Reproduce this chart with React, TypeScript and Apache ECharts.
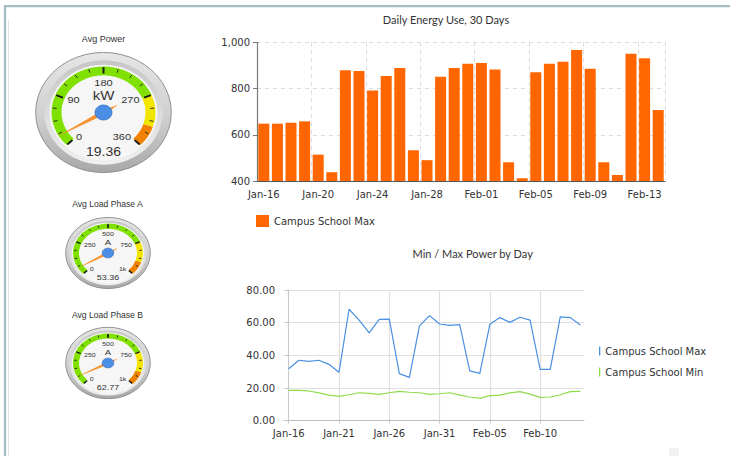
import React, { useEffect, useRef } from "react";
import * as echarts from "echarts";

// ---------- data ----------
const days = [
  "Jan-16", "Jan-17", "Jan-18", "Jan-19", "Jan-20", "Jan-21", "Jan-22", "Jan-23",
  "Jan-24", "Jan-25", "Jan-26", "Jan-27", "Jan-28", "Jan-29", "Jan-30", "Jan-31",
  "Feb-01", "Feb-02", "Feb-03", "Feb-04", "Feb-05", "Feb-06", "Feb-07", "Feb-08",
  "Feb-09", "Feb-10", "Feb-11", "Feb-12", "Feb-13", "Feb-14",
];
const dailyEnergyMax = [
  648, 648, 652, 658, 514, 438, 879, 876, 791, 854, 889, 533, 490, 851, 889,
  907, 910, 882, 481, 412, 870, 907, 916, 967, 886, 481, 426, 951, 931, 707,
];
const powerMax = [
  31.8, 37.0, 36.3, 37.0, 34.5, 29.6, 68.2, 61.6, 53.7, 62.0, 62.2, 28.8, 26.5, 58.0, 64.3,
  59.2, 58.4, 58.8, 30.5, 29.0, 59.0, 63.1, 60.2, 63.3, 61.6, 31.4, 31.4, 63.5, 63.1, 58.6,
];
const powerMin = [
  18.6, 18.6, 18.2, 17.0, 15.7, 14.9, 15.9, 17.1, 16.7, 16.1, 17.1, 18.0, 17.4, 17.1, 16.1,
  16.5, 17.1, 15.7, 14.5, 13.7, 15.3, 15.7, 17.0, 17.8, 16.3, 14.3, 14.5, 15.9, 17.8, 18.0,
];
const energyAxis = { min: 400, max: 1000, interval: 200 };
const powerAxis = { min: 0, max: 80, interval: 20 };
const powerLabelIdx = [0, 5, 10, 15, 20, 25];
const seriesNames = ["Campus School Max", "Campus School Min"];
const chartTitles = ["Daily Energy Use, 30 Days", "Min / Max Power by Day"];

const gaugeTitles = ["Avg Power", "Avg Load Phase A", "Avg Load Phase B"];
const gaugeUnits = ["kW", "A", "A"];
const gaugeValues = [19.36, 53.36, 62.77];
const gaugeMax = [360, 1000, 1000];
const bandStops = [0.75, 0.9, 1];

// ---------- layout ----------
type GSpec = {
  cx: number; cy: number; R: number; k: number; faceR: number; band: number; bandW: number;
  majorLen: number; majorW: number; minorLen: number; needle: number; needleW: number;
  tail: number; hub: number; labelSize: number; labelDist: number; unitSize: number;
  unitOff: number; valueSize: number; valueOff: number; titleY: number; titleSize: number;
};
const bigG = {
  R: 68.5, faceR: 54, band: 52, bandW: 10, majorLen: 7, majorW: 2, minorLen: 4,
  needle: 54, needleW: 2.6, tail: 17, hub: 17, labelSize: 11, labelDist: 15,
  unitSize: 15, unitOff: -19.5, valueSize: 14, valueOff: 44, titleSize: 9,
};
const smallG = {
  R: 43, faceR: 36, band: 35, bandW: 6, majorLen: 4.5, majorW: 1.5, minorLen: 2.5,
  needle: 36, needleW: 1.8, tail: 11.5, hub: 11.5, labelSize: 7, labelDist: 9.6,
  unitSize: 9.5, unitOff: -12.3, valueSize: 9, valueOff: 28.5, titleSize: 8.6,
};
const gaugeLayout: GSpec[] = [
  { ...bigG, cx: 103.5, cy: 112.3, k: 0.886, titleY: 39 },
  { ...smallG, cx: 107.5, cy: 252.8, k: 0.84, titleY: 204 },
  { ...smallG, cx: 107.5, cy: 363.3, k: 0.845, titleY: 315 },
];

const AXIS_FONT = "DejaVu Sans";
const TITLE_FONT = "Lato";
const GAUGE_FONT = "Liberation Sans";

function gaugeOption(i: number, s: GSpec) {
  const R = s.R;
  const max = gaugeMax[i];
  const fmt = (v: number) => (v >= 1000 ? v / 1000 + "k" : String(Math.round(v)));
  const needleColor = "#f6922f";
  const common = {
    type: "gauge",
    center: [R, R],
    radius: s.band,
    min: 0,
    max,
    splitNumber: 4,
  };
  return {
    animation: false,
    graphic: [
      {
        type: "circle", z: -10,
        shape: { cx: R, cy: R, r: R - 0.7 },
        style: {
          fill: new echarts.graphic.LinearGradient(0, 0, 0, 1, [
            { offset: 0, color: "#e6e6e6" },
            { offset: 0.55, color: "#cfcfcf" },
            { offset: 1, color: "#a8a8a8" },
          ]),
          stroke: "#8a8a8a", lineWidth: 1,
        },
      },
      {
        type: "circle", z: -9,
        shape: { cx: R, cy: R, r: s.faceR + (R - s.faceR) * 0.35 },
        style: {
          fill: new echarts.graphic.LinearGradient(0, 0, 0, 1, [
            { offset: 0, color: "#c6c6c6" },
            { offset: 1, color: "#f0f0f0" },
          ]),
        },
      },
      {
        type: "circle", z: -8,
        shape: { cx: R, cy: R, r: s.faceR },
        style: { fill: "#f6f6f6" },
      },
    ],
    series: [
      {
        ...common,
        startAngle: 45,
        endAngle: -225,
        z: 2,
        axisLine: { show: false },
        splitLine: { show: false },
        axisTick: { show: false },
        axisLabel: { show: false },
        pointer: { show: true, length: s.tail, width: s.needleW, itemStyle: { color: needleColor } },
        anchor: { show: false },
        title: { show: false },
        detail: { show: false },
        data: [{ value: gaugeValues[i] }],
      },
      {
        ...common,
        startAngle: 225,
        endAngle: -45,
        z: 3,
        axisLine: {
          lineStyle: {
            width: s.bandW,
            color: [
              [bandStops[0], "#80e000"],
              [bandStops[1], "#f2e600"],
              [bandStops[2], "#f08200"],
            ],
          },
        },
        splitLine: {
          distance: -(s.bandW - 1),
          length: s.majorLen,
          lineStyle: { color: "#151515", width: s.majorW },
        },
        axisTick: {
          splitNumber: 4,
          distance: -(s.bandW - 1),
          length: s.minorLen,
          lineStyle: { color: "#222", width: 1 },
        },
        axisLabel: {
          distance: s.labelDist,
          fontSize: s.labelSize,
          color: "#333",
          fontFamily: GAUGE_FONT,
          formatter: fmt,
        },
        pointer: { show: true, length: s.needle, width: s.needleW, itemStyle: { color: needleColor } },
        anchor: {
          show: true,
          showAbove: true,
          size: s.hub,
          itemStyle: { color: "#4a8ee6", borderColor: "#3a6fc2", borderWidth: 0.8 },
        },
        title: {
          show: true,
          offsetCenter: [0, s.unitOff],
          fontSize: s.unitSize,
          color: "#333",
          fontFamily: GAUGE_FONT,
        },
        detail: {
          show: true,
          offsetCenter: [0, s.valueOff],
          fontSize: s.valueSize,
          color: "#333",
          fontFamily: GAUGE_FONT,
          fontWeight: "normal",
          valueAnimation: false,
          formatter: (v: number) => v.toFixed(2),
        },
        data: [{ value: gaugeValues[i], name: gaugeUnits[i] }],
      },
    ],
  };
}

function mainOption() {
  const gaugeTitleTexts = gaugeLayout.map((g, i) => ({
    type: "text",
    x: g.cx,
    y: g.titleY,
    style: {
      text: gaugeTitles[i],
      fontSize: g.titleSize,
      fontFamily: GAUGE_FONT,
      fill: "#333",
      align: "center",
      verticalAlign: "middle",
    },
  }));
  return {
    animation: false,
    backgroundColor: "#fff",
    textStyle: { fontFamily: AXIS_FONT },
    graphic: [
      {
        type: "rect",
        shape: { x: 5, y: 6.2, width: 760, height: 480 },
        style: { fill: "none", stroke: "#a9bdc5", lineWidth: 2.3 },
      },
      {
        type: "line",
        shape: { x1: 8.5, y1: 20, x2: 8.5, y2: 456 },
        style: { stroke: "#e4dfe2", lineWidth: 1 },
      },
      {
        type: "rect",
        shape: { x: 669, y: 448, width: 10, height: 8 },
        style: { fill: "#f1f1f1" },
      },
      {
        type: "text", x: 446, y: 19.5,
        style: { text: chartTitles[0], fontSize: 11, fontFamily: TITLE_FONT, fill: "#333", align: "center", verticalAlign: "middle" },
      },
      {
        type: "text", x: 472.7, y: 253.3,
        style: { text: chartTitles[1], fontSize: 11, fontFamily: TITLE_FONT, fill: "#333", align: "center", verticalAlign: "middle" },
      },
      ...gaugeTitleTexts,
    ],
    legend: [
      {
        left: 256, top: 215, padding: 0,
        itemWidth: 13, itemHeight: 12, icon: "rect",
        data: [seriesNames[0]],
        selectedMode: false,
        textStyle: { fontSize: 10, color: "#333", fontFamily: AXIS_FONT },
      },
      {
        left: 599, top: 346, padding: 0, orient: "vertical", itemGap: 11,
        itemWidth: 1.3, itemHeight: 9, icon: "rect",
        selectedMode: false,
        data: [
          { name: seriesNames[0], itemStyle: { color: "#4a90e2", borderWidth: 0 } },
          { name: seriesNames[1], itemStyle: { color: "#8fdc4a", borderWidth: 0 } },
        ],
        textStyle: { fontSize: 10, color: "#333", fontFamily: AXIS_FONT },
      },
    ],
    grid: [
      { left: 257, top: 42.3, width: 408, height: 138.7 },
      { left: 284, top: 290, width: 300, height: 130.7 },
    ],
    xAxis: [
      {
        type: "category",
        gridIndex: 0,
        data: days,
        axisLine: { lineStyle: { color: "#555", width: 1.2 } },
        axisTick: { alignWithLabel: true, interval: 3, length: 4, lineStyle: { color: "#555" } },
        axisLabel: { interval: 3, margin: 8, fontSize: 10, color: "#333", fontFamily: AXIS_FONT },
        splitLine: { show: true, interval: 3, lineStyle: { color: "#dcdcdc", type: [4, 4] } },
      },
      {
        type: "value",
        gridIndex: 1,
        min: -0.47,
        max: 29.36,
        axisLine: { onZero: false, lineStyle: { color: "#bbb" } },
        axisTick: { show: true, length: 3, customValues: powerLabelIdx, lineStyle: { color: "#ccc" } },
        axisLabel: {
          customValues: powerLabelIdx,
          formatter: (v: number) => days[Math.round(v)] ?? "",
          margin: 8, fontSize: 10, color: "#333", fontFamily: AXIS_FONT,
        },
        splitLine: { show: true, lineStyle: { color: "#e0e0e0", width: 1.2 } },
      },
    ],
    yAxis: [
      {
        type: "value",
        gridIndex: 0,
        min: energyAxis.min,
        max: energyAxis.max,
        interval: energyAxis.interval,
        axisLine: { show: true, lineStyle: { color: "#777", width: 1.2 } },
        axisTick: { show: true, length: 4, lineStyle: { color: "#777" } },
        axisLabel: {
          margin: 7, fontSize: 10, color: "#333", fontFamily: AXIS_FONT,
          formatter: (v: number) => v.toLocaleString("en-US"),
        },
        splitLine: { lineStyle: { color: "#dcdcdc", type: [4, 4] } },
      },
      {
        type: "value",
        gridIndex: 1,
        min: powerAxis.min,
        max: powerAxis.max,
        interval: powerAxis.interval,
        axisLine: { show: true, lineStyle: { color: "#c8c8c8" } },
        axisTick: { show: true, length: 4, lineStyle: { color: "#c8c8c8" } },
        axisLabel: {
          margin: 9, fontSize: 10, color: "#333", fontFamily: AXIS_FONT,
          formatter: (v: number) => v.toFixed(2),
        },
        splitLine: { lineStyle: { color: "#e0e0e0", width: 1.2 } },
      },
    ],
    series: [
      {
        type: "bar",
        name: seriesNames[0],
        xAxisIndex: 0,
        yAxisIndex: 0,
        data: dailyEnergyMax,
        barCategoryGap: "19%",
        itemStyle: { color: "#ff6600" },
      },
      {
        type: "line",
        name: seriesNames[0],
        xAxisIndex: 1,
        yAxisIndex: 1,
        data: powerMax.map((v, i) => [i, v]),
        symbol: "none",
        lineStyle: { width: 1.2, color: "#4a90e2" },
        itemStyle: { color: "#4a90e2" },
      },
      {
        type: "line",
        name: seriesNames[1],
        xAxisIndex: 1,
        yAxisIndex: 1,
        data: powerMin.map((v, i) => [i, v]),
        symbol: "none",
        lineStyle: { width: 1.2, color: "#8fdc4a" },
        itemStyle: { color: "#8fdc4a" },
      },
    ],
  };
}

export default function App() {
  const mainRef = useRef<HTMLDivElement>(null);
  const g0 = useRef<HTMLDivElement>(null);
  const g1 = useRef<HTMLDivElement>(null);
  const g2 = useRef<HTMLDivElement>(null);

  useEffect(() => {
    const charts: echarts.ECharts[] = [];
    if (mainRef.current) {
      const c = echarts.init(mainRef.current, null, { renderer: "svg" });
      c.setOption(mainOption() as any);
      charts.push(c);
    }
    [g0, g1, g2].forEach((r, i) => {
      if (r.current) {
        const c = echarts.init(r.current, null, { renderer: "svg" });
        c.setOption(gaugeOption(i, gaugeLayout[i]) as any);
        charts.push(c);
      }
    });
    return () => charts.forEach((c) => c.dispose());
  }, []);

  const gRefs = [g0, g1, g2];
  return (
    <div style={{ position: "absolute", left: 0, top: 0, width: 730, height: 456, overflow: "hidden", background: "#fff" }}>
      <div ref={mainRef} style={{ position: "absolute", left: 0, top: 0, width: 730, height: 456 }} />
      {gaugeLayout.map((g, i) => (
        <div
          key={i}
          ref={gRefs[i]}
          style={{
            position: "absolute",
            left: g.cx - g.R,
            top: g.cy - g.R,
            width: g.R * 2,
            height: g.R * 2,
            transform: `scaleY(${g.k})`,
            transformOrigin: "50% 50%",
          }}
        />
      ))}
    </div>
  );
}
